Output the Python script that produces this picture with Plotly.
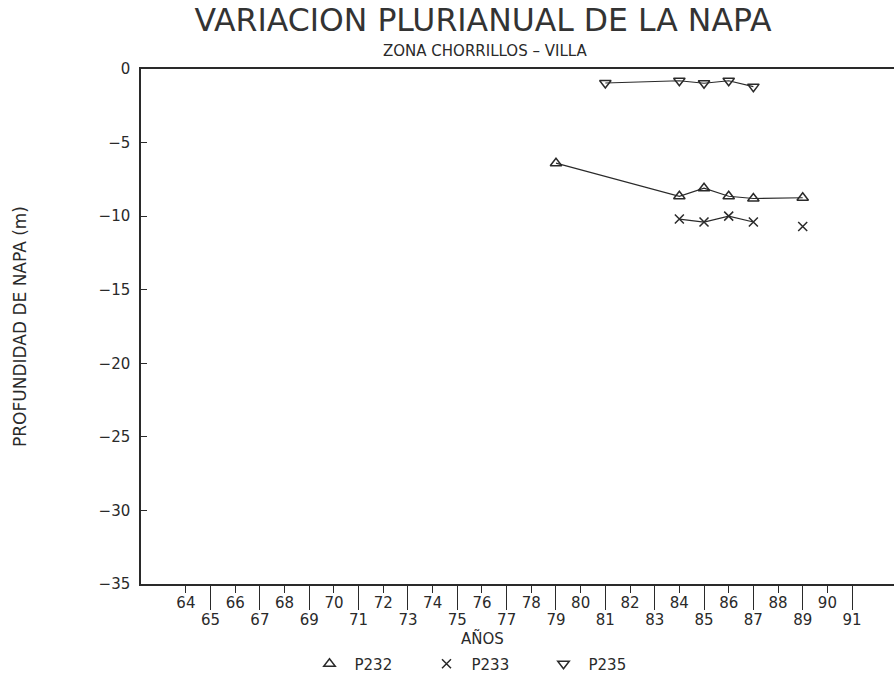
import plotly.graph_objects as go

# ---- data ----
years_p232 = [79, 84, 85, 86, 87, 89]
depth_p232 = [-6.4, -8.65, -8.1, -8.65, -8.8, -8.75]

years_p233 = [84, 85, 86, 87, 88, 89]
depth_p233 = [-10.2, -10.4, -10.0, -10.4, None, -10.7]

years_p235 = [81, 84, 85, 86, 87]
depth_p235 = [-0.95, -0.8, -0.97, -0.8, -1.2]

odd_years = list(range(65, 92, 2))
even_years = list(range(64, 91, 2))
y_ticks = [0, -5, -10, -15, -20, -25, -30, -35]

INK = "#2a2a2a"
FONT = "DejaVu Sans, Liberation Sans, sans-serif"
x_range = [62.18, 92.7]

fig = go.Figure()

series = [
    ("P232", years_p232, depth_p232, "triangle-up-open", 10, 1.5),
    ("P233", years_p233, depth_p233, "x-thin-open", 9, 1.5),
    ("P235", years_p235, depth_p235, "triangle-down-open", 10, 1.5),
]
for name, xs, ys, sym, sz, lw in series:
    fig.add_trace(go.Scatter(
        x=xs, y=ys, mode="lines+markers", name=name, showlegend=False,
        connectgaps=False,
        line=dict(color=INK, width=1.2),
        marker=dict(symbol=sym, size=sz, color=INK, line=dict(color=INK, width=lw)),
    ))
    # legend entry (marker only), placed on the overlay axis so it gets drawn
    fig.add_trace(go.Scatter(
        x=[None], y=[None], mode="markers", name=name, showlegend=True,
        xaxis="x2", yaxis="y",
        marker=dict(symbol=sym, size=sz, color=INK, line=dict(color=INK, width=lw)),
    ))

fig.update_layout(
    width=894, height=678,
    margin=dict(l=141, r=0, t=69, b=94),
    paper_bgcolor="white", plot_bgcolor="white",
    font=dict(family=FONT, color=INK, size=15),
    title=dict(text="VARIACION PLURIANUAL DE LA NAPA", x=483/894, xref="container", xanchor="center",
               y=1-20/678, yref="container", yanchor="middle",
               font=dict(size=31.5, family=FONT, color="#333")),
    showlegend=True,
    legend=dict(orientation="h", xref="container", x=480/894, xanchor="center",
                yref="container", y=1-664/678, yanchor="middle",
                font=dict(size=15), entrywidth=62, itemwidth=40,
                bgcolor="rgba(0,0,0,0)"),
    xaxis=dict(range=x_range, tickmode="array", tickvals=odd_years,
               ticktext=[str(v) for v in odd_years],
               ticks="outside", ticklen=24, tickwidth=1.2, tickcolor=INK,
               showline=True, linecolor=INK, linewidth=1.5, mirror=True,
               showgrid=False, zeroline=False, tickfont=dict(size=15),
               ticklabelstandoff=-3),
    xaxis2=dict(range=x_range, overlaying="x", anchor="y", side="bottom",
                tickmode="array", tickvals=even_years,
                ticktext=[str(v) for v in even_years],
                ticks="outside", ticklen=8, tickwidth=1.2, tickcolor=INK,
                showline=False, showgrid=False, zeroline=False, tickfont=dict(size=15),
                ticklabelstandoff=-3),
    yaxis=dict(range=[-35, 0], tickmode="array", tickvals=y_ticks,
               ticks="inside", ticklen=6, tickwidth=1.2, tickcolor=INK,
               showline=True, linecolor=INK, linewidth=1.5,
               showgrid=False, zeroline=False, tickfont=dict(size=15),
               ticklabelstandoff=6,
               title=dict(text="PROFUNDIDAD DE NAPA (m)", standoff=68,
                          font=dict(size=17))),
)

fig.add_annotation(text="ZONA CHORRILLOS – VILLA", xref="paper", yref="paper",
                   x=(485-141)/753, y=1+18/515, xanchor="center", yanchor="middle",
                   showarrow=False, font=dict(size=15, family=FONT))
fig.add_annotation(text="AÑOS", xref="paper", yref="paper",
                   x=(482-141)/753, y=-54/515, xanchor="center", yanchor="middle",
                   showarrow=False, font=dict(size=15, family=FONT))

fig.write_html("out.html", config={"displayModeBar": False},
               post_script="document.body.style.margin='0';")
